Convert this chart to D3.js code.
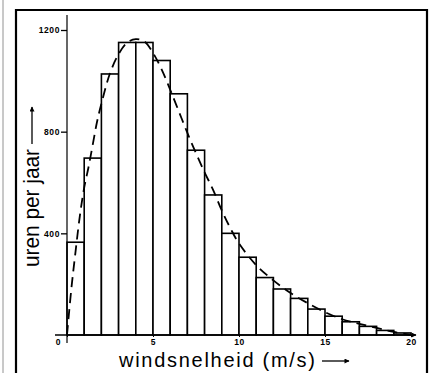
<!DOCTYPE html>
<html>
<head>
<meta charset="utf-8">
<script src="https://cdn.jsdelivr.net/npm/d3@7"></script>
<style>
  html, body { margin: 0; padding: 0; background: #fff; }
  svg { display: block; }
  .tick text { font-family: "Liberation Sans", Arial, sans-serif; font-weight: bold; letter-spacing: 0.6px; }
</style>
</head>
<body>
<div id="chart"></div>
<script>
// bin start (m/s), each bin is 1 m/s wide
const binStart = [0, 1, 2, 3, 4, 5, 6, 7, 8, 9, 10, 11, 12, 13, 14, 15, 16, 17, 18, 19];
const hoursPerBin = [365, 696, 1027, 1151, 1151, 1080, 949, 727, 551, 400, 306, 226, 181, 144, 102, 74, 52, 34, 18, 8];

// dashed fitted curve
const curveSpeed = [0, 0.25, 0.5, 0.75, 1, 1.25, 1.5, 1.75, 2, 2.5, 3, 3.5, 4, 4.5, 5, 5.5, 6, 6.5, 7, 7.5, 8, 8.5, 9, 9.5, 10, 11, 12, 13, 14, 15, 16, 17, 18, 19, 20];
const curveHours = [0, 180, 330, 470, 580, 660, 750, 840, 910, 1030, 1105, 1150, 1164, 1155, 1110, 1045, 965, 880, 795, 715, 640, 570, 490, 420, 360, 275, 215, 165, 125, 90, 62, 44, 28, 12, 0];

const xTicks = [0, 5, 10, 15, 20];
const yTicks = [400, 800, 1200];

const width = 438;
const height = 373;

const svg = d3.select("#chart")
  .append("svg")
  .attr("width", width)
  .attr("height", height);

svg.append("defs")
  .append("marker")
  .attr("id", "head")
  .attr("viewBox", "0 0 10 10")
  .attr("refX", 9)
  .attr("refY", 5)
  .attr("markerWidth", 7)
  .attr("markerHeight", 5)
  .attr("markerUnits", "userSpaceOnUse")
  .attr("orient", "auto")
  .append("path")
  .attr("d", "M0,0L10,5L0,10z")
  .attr("fill", "#000");

const x = d3.scaleLinear().domain([0, 20]).range([67, 411]);
const y = d3.scaleLinear().domain([0, 1200]).range([335, 30]);

// page frame
svg.append("line").attr("x1", 3).attr("y1", 0).attr("x2", 3).attr("y2", height)
  .attr("stroke", "#777").attr("stroke-width", 0.8);
svg.append("path")
  .attr("d", `M16,${height}V10H427V${height}`)
  .attr("fill", "none")
  .attr("stroke", "#000")
  .attr("stroke-width", 2.2);

// bars
svg.append("g")
  .selectAll("rect")
  .data(binStart)
  .join("rect")
  .attr("x", d => x(d))
  .attr("y", (d, i) => y(hoursPerBin[i]))
  .attr("width", d => x(d + 1) - x(d))
  .attr("height", (d, i) => y(0) - y(hoursPerBin[i]))
  .attr("fill", "#fff")
  .attr("stroke", "#000")
  .attr("stroke-width", 1.6);

// dashed curve
const curvePoints = curveSpeed.map((s, i) => [s, curveHours[i]]);
svg.append("path")
  .datum(curvePoints)
  .attr("fill", "none")
  .attr("stroke", "#000")
  .attr("stroke-width", 1.8)
  .attr("stroke-dasharray", "10,6")
  .attr("d", d3.line()
    .x(d => x(d[0]))
    .y(d => y(d[1]))
    .curve(d3.curveCatmullRom));

// y axis
const yAxis = svg.append("g")
  .attr("transform", `translate(${x(0)},0)`)
  .call(d3.axisLeft(y).tickValues(yTicks).tickSize(6).tickPadding(1).tickFormat(d3.format("d")));
yAxis.select(".domain").remove();
yAxis.selectAll(".tick line").attr("stroke-width", 1.3);
yAxis.selectAll(".tick text").attr("font-size", 8.5).attr("dy", "0.35em");
svg.append("line")
  .attr("x1", x(0)).attr("x2", x(0))
  .attr("y1", 15).attr("y2", 343)
  .attr("stroke", "#000").attr("stroke-width", 1.2);

// x axis
const xAxis = svg.append("g")
  .attr("transform", `translate(0,${y(0)})`)
  .call(d3.axisBottom(x).tickValues(xTicks).tickSize(2).tickPadding(2).tickFormat(d3.format("d")));
xAxis.select(".domain").remove();
xAxis.selectAll(".tick text").attr("font-size", 8.5);
xAxis.selectAll(".tick")
  .filter(d => d === 0)
  .select("text")
  .attr("dx", -9);
svg.append("line")
  .attr("x1", 55).attr("x2", 416)
  .attr("y1", y(0)).attr("y2", y(0))
  .attr("stroke", "#000").attr("stroke-width", 1.6)
  .attr("marker-end", "url(#head)");

// axis titles
svg.append("text")
  .attr("x", 119)
  .attr("y", 367)
  .attr("font-family", "Liberation Sans, Arial, sans-serif")
  .attr("font-size", 20)
  .attr("textLength", 196)
  .attr("lengthAdjust", "spacing")
  .text("windsnelheid (m/s)");
svg.append("line")
  .attr("x1", 322).attr("x2", 349)
  .attr("y1", 361).attr("y2", 361)
  .attr("stroke", "#000").attr("stroke-width", 1.3)
  .attr("marker-end", "url(#head)");

svg.append("text")
  .attr("transform", "translate(39,267) rotate(-90)")
  .attr("font-family", "Liberation Sans, Arial, sans-serif")
  .attr("font-size", 22)
  .attr("textLength", 118)
  .attr("lengthAdjust", "spacingAndGlyphs")
  .text("uren per jaar");
svg.append("line")
  .attr("x1", 32).attr("x2", 32)
  .attr("y1", 144).attr("y2", 107)
  .attr("stroke", "#000").attr("stroke-width", 1.3)
  .attr("marker-end", "url(#head)");
</script>
</body>
</html>
